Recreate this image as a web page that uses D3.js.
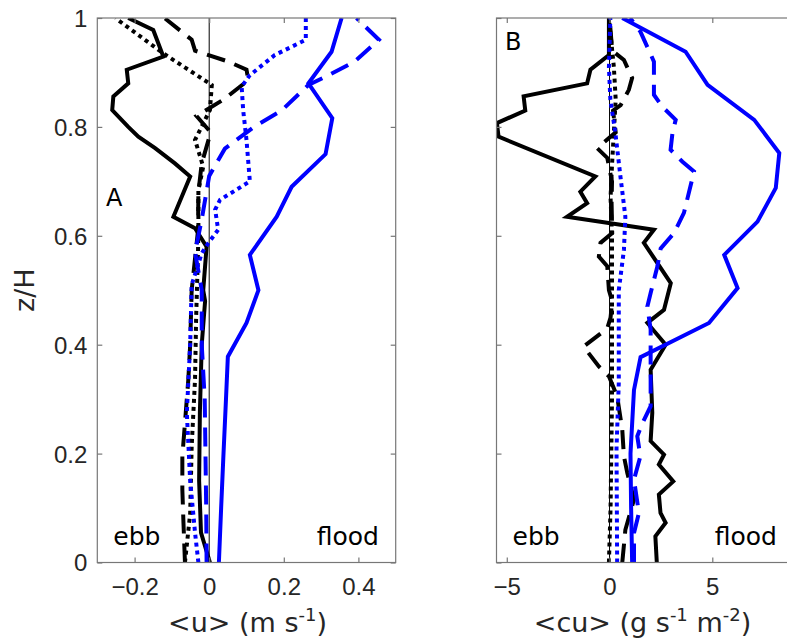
<!DOCTYPE html>
<html>
<head>
<meta charset="utf-8">
<script src="https://cdn.jsdelivr.net/npm/d3@7"></script>
<style>
  body { margin: 0; background: #fff; }
  svg { display: block; font-family: "DejaVu Sans", sans-serif; }
  .axis text { font-size: 24px; fill: #262626; }
  .axis line { stroke: #777; stroke-width: 1.2; }
  .axis path { stroke: none; }
</style>
</head>
<body>
<div id="chart"></div>
<script>
// z/H levels and profiles as [value, z/H]
// panel A: <u> (m/s)
var uBlackSolid = [[0.002,0],[-0.022,0.055],[-0.027,0.15],[-0.025,0.275],[-0.02,0.40],[-0.011,0.48],[-0.016,0.50],[-0.007,0.58],[-0.038,0.614],[-0.096,0.635],[-0.051,0.709],[-0.092,0.733],[-0.145,0.761],[-0.19,0.782],[-0.217,0.80],[-0.26,0.831],[-0.257,0.856],[-0.217,0.88],[-0.221,0.905],[-0.123,0.929],[-0.15,0.978],[-0.217,1.0]];
var uBlackDashed = [[-0.065,0],[-0.069,0.073],[-0.072,0.134],[-0.072,0.195],[-0.065,0.256],[-0.056,0.336],[-0.051,0.40],[-0.047,0.5],[-0.03,0.61],[-0.029,0.68],[-0.02,0.733],[0.004,0.79],[-0.034,0.82],[0.038,0.85],[0.105,0.886],[0.1,0.905],[0.051,0.92],[-0.038,0.94],[-0.047,0.96],[-0.12,1.0]];
var uBlackDotted = [[-0.065,0],[-0.051,0.09],[-0.047,0.213],[-0.038,0.336],[-0.035,0.45],[-0.03,0.57],[-0.029,0.617],[-0.029,0.684],[-0.016,0.727],[-0.038,0.776],[0.002,0.831],[0.007,0.877],[-0.123,0.935],[-0.244,0.996],[-0.25,1.0]];
var uBlueSolid = [[0.026,0],[0.032,0.1],[0.038,0.195],[0.045,0.30],[0.05,0.378],[0.10,0.44],[0.132,0.50],[0.109,0.565],[0.181,0.635],[0.221,0.69],[0.312,0.75],[0.33,0.816],[0.266,0.88],[0.328,0.938],[0.355,1.0]];
var uBlueDashed = [[-0.007,0],[-0.008,0.1],[-0.01,0.2],[-0.012,0.3],[-0.02,0.4],[-0.02,0.5],[-0.038,0.57],[-0.02,0.63],[0,0.71],[0.042,0.76],[0.12,0.80],[0.194,0.83],[0.266,0.877],[0.32,0.895],[0.39,0.92],[0.455,0.96],[0.395,1.0]];
var uBlueDotted = [[-0.029,0],[-0.038,0.055],[-0.051,0.15],[-0.06,0.275],[-0.051,0.40],[-0.047,0.51],[-0.02,0.568],[-0.002,0.587],[0.024,0.611],[0.016,0.648],[0.029,0.666],[0.109,0.70],[0.1,0.776],[0.091,0.831],[0.087,0.874],[0.109,0.895],[0.176,0.932],[0.259,0.96],[0.259,1.0]];

// panel B: <cu> (g s-1 m-2)
var cuBlackSolid = [[2.3,0],[2.23,0.048],[2.73,0.073],[2.48,0.091],[2.4,0.125],[3.1,0.149],[2.4,0.18],[2.65,0.198],[2.0,0.223],[2.08,0.275],[2.0,0.354],[2.73,0.40],[1.84,0.44],[2.65,0.464],[2.98,0.513],[2.33,0.55],[1.67,0.587],[2.16,0.611],[-2.07,0.635],[-1.09,0.66],[-1.42,0.681],[-0.69,0.709],[-5.4,0.782],[-5.48,0.807],[-4.1,0.83],[-4.18,0.856],[-1.09,0.88],[-0.93,0.905],[-0.03,0.932],[-0.03,1.0]];
var cuBlackDashed = [[0.62,0],[0.77,0.06],[1.19,0.116],[0.86,0.165],[0.7,0.195],[0.62,0.244],[0.37,0.305],[-0.03,0.342],[-0.52,0.36],[-1.09,0.388],[-1.25,0.397],[-0.11,0.43],[0.05,0.45],[0.13,0.48],[-0.03,0.50],[-0.11,0.544],[-0.52,0.562],[-0.44,0.587],[0.13,0.605],[0.1,0.66],[0.12,0.70],[-0.11,0.743],[-0.6,0.761],[0.3,0.79],[0.17,0.83],[0.54,0.84],[0.94,0.868],[1.1,0.89],[0.7,0.923],[0.13,0.94],[0.0,1.0]];
var cuBlackDotted = [[-0.03,0],[0.05,0.1],[0.12,0.3],[0.12,0.5],[0.12,0.6],[0.05,0.67],[0.12,0.73],[0.21,0.79],[0.3,0.85],[0.21,0.91],[-0.03,1.0]];
var cuBlueSolid = [[1.1,0],[1.05,0.1],[1.02,0.2],[1.19,0.317],[1.51,0.377],[4.84,0.44],[6.23,0.504],[5.58,0.565],[7.2,0.626],[8.09,0.688],[8.26,0.752],[7.04,0.813],[4.77,0.877],[3.7,0.938],[0.62,1.0]];
var cuBlueDashed = [[1.19,0],[1.19,0.054],[1.43,0.091],[1.19,0.152],[1.5,0.195],[1.35,0.232],[1.6,0.256],[2.0,0.287],[2.0,0.428],[1.84,0.47],[2.0,0.495],[2.33,0.544],[2.49,0.577],[3.14,0.605],[3.62,0.642],[4.11,0.718],[3.55,0.736],[2.97,0.758],[3.06,0.788],[3.22,0.813],[2.57,0.837],[2.16,0.859],[2.16,0.92],[1.5,0.975],[1.0,1.0]];
var cuBlueDotted = [[0.37,0],[0.34,0.21],[0.45,0.33],[0.45,0.5],[0.7,0.574],[0.77,0.635],[0.53,0.709],[0.28,0.79],[0.04,0.85],[-0.03,0.91],[0.04,1.0]];

var zTicks = [0, 0.2, 0.4, 0.6, 0.8, 1];
var uTicks = [-0.2, 0, 0.2, 0.4];
var cuTicks = [-5, 0, 5];

var W = 787, H = 642;
var top_ = 18, bottom = 562.5;

var svg = d3.select("#chart").append("svg")
    .attr("width", W).attr("height", H);

var yScale = d3.scaleLinear().domain([0, 1]).range([bottom, top_]);

// dash patterns
var styles = {
  solid:  "none",
  dashed: "19,10",
  dotted: "4,4"
};

function panel(opts) {
  var x = d3.scaleLinear().domain(opts.domain).range([opts.left, opts.right]);
  var g = svg.append("g");
  var clipId = "clip" + opts.name;
  svg.append("clipPath").attr("id", clipId)
    .append("rect")
    .attr("x", opts.left).attr("y", top_)
    .attr("width", opts.right - opts.left).attr("height", bottom - top_);

  // zero line
  g.append("line")
    .attr("x1", x(0)).attr("x2", x(0))
    .attr("y1", top_).attr("y2", bottom)
    .attr("stroke", "#000").attr("stroke-width", 1);

  var line = d3.line()
    .x(function(d){ return x(d[0]); })
    .y(function(d){ return yScale(d[1]); });

  var lg = g.append("g").attr("clip-path", "url(#" + clipId + ")");
  opts.series.forEach(function(s){
    lg.append("path")
      .datum(s.data)
      .attr("d", line)
      .attr("fill", "none")
      .attr("stroke", s.color)
      .attr("stroke-width", 4)
      .attr("stroke-linejoin", "miter")
      .attr("stroke-dasharray", styles[s.style]);
  });

  // axes (ticks inward)
  g.append("g").attr("class", "axis")
    .attr("transform", "translate(0," + bottom + ")")
    .call(d3.axisBottom(x).tickValues(opts.ticks).tickSize(-5).tickSizeOuter(0)
      .tickPadding(15.5).tickFormat(d3.format("")));
  g.append("g").attr("class", "axis")
    .attr("transform", "translate(0," + top_ + ")")
    .call(d3.axisTop(x).tickValues(opts.ticks).tickSize(-5).tickSizeOuter(0).tickFormat(""));
  var yl = g.append("g").attr("class", "axis")
    .attr("transform", "translate(" + opts.left + ",0)")
    .call(d3.axisLeft(yScale).tickValues(zTicks).tickSize(-5).tickSizeOuter(0)
      .tickPadding(10).tickFormat(opts.yLabels ? d3.format("") : ""));
  yl.selectAll("text").attr("dy", "0.35em");
  g.append("g").attr("class", "axis")
    .attr("transform", "translate(" + opts.right + ",0)")
    .call(d3.axisRight(yScale).tickValues(zTicks).tickSize(-5).tickSizeOuter(0).tickFormat(""));

  g.append("rect")
    .attr("x", opts.left).attr("y", top_)
    .attr("width", opts.right - opts.left).attr("height", bottom - top_)
    .attr("fill", "none").attr("stroke", "#777").attr("stroke-width", 1.2);

  // panel letter and ebb / flood
  g.append("text").attr("x", opts.letterX).attr("y", opts.letterY)
    .attr("font-size", 24).attr("fill", "#000").text(opts.name);
  g.append("text").attr("x", opts.left + 16).attr("y", 545)
    .attr("font-size", 25).attr("fill", "#000").text("ebb");
  g.append("text").attr("x", opts.floodX).attr("y", 545)
    .attr("text-anchor", "end")
    .attr("font-size", 25).attr("fill", "#000").text("flood");

  // x label with superscripts
  var t = svg.append("text")
    .attr("x", (opts.left + opts.right) / 2 + opts.labelShift)
    .attr("y", 632)
    .attr("text-anchor", "middle")
    .attr("font-size", 27).attr("fill", "#262626");
  opts.label.forEach(function(p){
    var ts = t.append("tspan").text(p.t);
    if (p.sup) ts.attr("font-size", 18).attr("dy", -11);
    else if (p.after) ts.attr("dy", 11);
  });
  return x;
}

panel({
  name: "A", left: 97.3, right: 395.7, domain: [-0.3, 0.5], ticks: uTicks, yLabels: true,
  letterX: 106, letterY: 206, floodX: 379, labelShift: 1,
  label: [{t: "<u> (m s"}, {t: "-1", sup: true}, {t: ")", after: true}],
  series: [
    {data: uBlackSolid, color: "#000", style: "solid"},
    {data: uBlackDashed, color: "#000", style: "dashed"},
    {data: uBlackDotted, color: "#000", style: "dotted"},
    {data: uBlueSolid, color: "#0000ff", style: "solid"},
    {data: uBlueDashed, color: "#0000ff", style: "dashed"},
    {data: uBlueDotted, color: "#0000ff", style: "dotted"}
  ]
});

panel({
  name: "B", left: 496.5, right: 794.5, domain: [-5.5, 9], ticks: cuTicks, yLabels: false,
  letterX: 505, letterY: 50, floodX: 777, labelShift: -3,
  label: [{t: "<cu> (g s"}, {t: "-1", sup: true}, {t: " m", after: true}, {t: "-2", sup: true}, {t: ")", after: true}],
  series: [
    {data: cuBlackSolid, color: "#000", style: "solid"},
    {data: cuBlackDashed, color: "#000", style: "dashed"},
    {data: cuBlackDotted, color: "#000", style: "dotted"},
    {data: cuBlueSolid, color: "#0000ff", style: "solid"},
    {data: cuBlueDashed, color: "#0000ff", style: "dashed"},
    {data: cuBlueDotted, color: "#0000ff", style: "dotted"}
  ]
});

// y axis title
svg.append("text")
  .attr("transform", "translate(34," + ((top_ + bottom) / 2) + ") rotate(-90)")
  .attr("text-anchor", "middle")
  .attr("font-size", 27).attr("fill", "#262626")
  .text("z/H");
</script>
</body>
</html>
